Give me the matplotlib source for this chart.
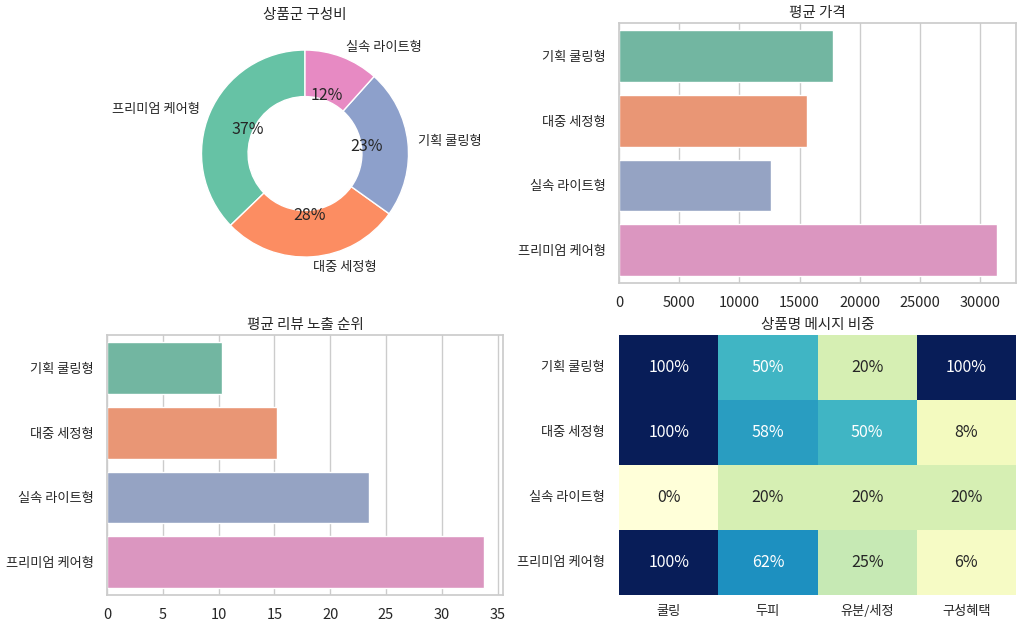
import matplotlib
matplotlib.use('Agg')
import matplotlib.pyplot as plt
import seaborn as sns
import numpy as np
import pandas as pd

# 상품군 구성 (건수)
pieGroups = ['프리미엄 케어형', '대중 세정형', '기획 쿨링형', '실속 라이트형']
pieCounts = [16, 12, 10, 5]

barGroups = ['기획 쿨링형', '대중 세정형', '실속 라이트형', '프리미엄 케어형']
avgPrice = [17800, 15600, 12600, 31400]
avgRank = [10.3, 15.2, 23.5, 33.8]

msgCols = ['쿨링', '두피', '유분/세정', '구성혜택']
msgShare = [
    [10 / 10, 5 / 10, 2 / 10, 10 / 10],
    [12 / 12, 7 / 12, 6 / 12, 1 / 12],
    [0 / 5, 1 / 5, 1 / 5, 1 / 5],
    [16 / 16, 10 / 16, 4 / 16, 1 / 16],
]

sns.set_theme(style='whitegrid')
plt.rcParams['font.family'] = ['Noto Sans CJK KR', 'DejaVu Sans']
plt.rcParams['axes.unicode_minus'] = False

fig, axes = plt.subplots(2, 2, figsize=(10.24, 6.24), dpi=100)

# 1. 구성비 도넛
ax = axes[0, 0]
pieColors = sns.color_palette('Set2', 4)
wedges, texts, autotexts = ax.pie(pieCounts, labels=pieGroups, autopct='%.0f%%',
                                  startangle=90, colors=pieColors, pctdistance=0.6,
                                  wedgeprops=dict(width=0.45, edgecolor='white'),
                                  textprops=dict(fontsize=9.5, color='.15'))
for t in autotexts:
    t.set_fontsize(11.5)
ax.set_title('상품군 구성비', fontsize=10.5, pad=4)

# 2. 평균 가격
ax = axes[0, 1]
sns.barplot(x=avgPrice, y=barGroups, hue=barGroups, palette='Set2',
            legend=False, ax=ax)
ax.set_title('평균 가격', fontsize=10.5, pad=4)
ax.tick_params(labelsize=9.5)
ax.tick_params(axis='x', labelsize=10.5)

# 3. 평균 리뷰 노출 순위
ax = axes[1, 0]
sns.barplot(x=avgRank, y=barGroups, hue=barGroups, palette='Set2',
            legend=False, ax=ax)
ax.set_title('평균 리뷰 노출 순위', fontsize=10.5, pad=4)
ax.tick_params(labelsize=9.5)
ax.tick_params(axis='x', labelsize=10.5)

# 4. 메시지 비중 히트맵
ax = axes[1, 1]
heatDf = pd.DataFrame(msgShare, index=barGroups, columns=msgCols)
sns.heatmap(heatDf, annot=True, fmt='.0%', cmap='YlGnBu', cbar=False,
            vmin=0, vmax=1, ax=ax, annot_kws=dict(fontsize=11.5))
ax.set_title('상품명 메시지 비중', fontsize=10.5, pad=4)
ax.tick_params(labelsize=9.5, length=0)
ax.tick_params(axis='y', pad=10)
ax.tick_params(axis='x', pad=7)
ax.set_yticklabels(ax.get_yticklabels(), rotation=0)

# 위치 맞춤
axes[0, 0].set_position([0.1715, 0.5466, 0.2527, 0.4147])
axes[0, 1].set_position([0.6045, 0.5465, 0.3877, 0.4166])
axes[1, 0].set_position([0.1045, 0.0465, 0.3867, 0.4166])
axes[1, 1].set_position([0.6045, 0.0465, 0.3877, 0.4166])

plt.savefig('out.png', dpi=100)
